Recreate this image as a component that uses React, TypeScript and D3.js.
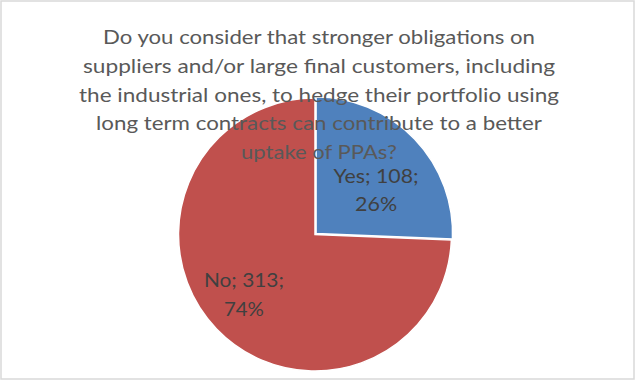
import React from "react";
import * as d3 from "d3";

const categories = ["Yes", "No"];
const values = [108, 313];
const percents = ["26%", "74%"];
const titleLines = [
  "Do you consider that stronger obligations on",
  "suppliers and/or large final customers, including",
  "the industrial ones, to hedge their portfolio using",
  "long term contracts can contribute to a better",
  "uptake of PPAs?",
];
const colors = ["#4F81BD", "#C0504D"];

const W = 636;
const H = 381;
const cx = 315;
const cy = 234.5;
const R = 136.5;
const explode = [1.5, 0];
const titleWidths = [432, 472, 480, 446, 156];
const labelNudge = [
  [2, 12],
  [-12, 3],
];
const labelWidths = [
  [85, 42],
  [80, 40],
];

export default function App() {
  const data = categories.map((c, i) => ({ c, v: values[i], p: percents[i], i }));
  const pie = d3
    .pie<any>()
    .sort(null)
    .value((d: any) => d.v)
    .startAngle(0)
    .endAngle(2 * Math.PI);
  const arcs = pie(data);
  const arc = d3.arc<any>().innerRadius(0).outerRadius(R);
  const labelArc = d3.arc<any>().innerRadius(R * 0.6).outerRadius(R * 0.6);
  const font = "Lato, 'Open Sans', sans-serif";

  return (
    <svg
      width={W}
      height={H}
      style={{ position: "absolute", left: 0, top: 0, background: "#fff" }}
    >
      <rect x={0} y={0} width={W} height={H} fill="#fff" />
      <rect x={1} y={1} width={633} height={378} fill="none" stroke="#D9D9D9" strokeWidth={1.5} />
      <g transform={`translate(${cx},${cy})`}>
        {arcs.map((a: any, i: number) => {
          const mid = (a.startAngle + a.endAngle) / 2;
          const dx = Math.sin(mid) * explode[i];
          const dy = -Math.cos(mid) * explode[i];
          return (
            <path
              key={i}
              d={arc(a) || ""}
              transform={`translate(${dx},${dy})`}
              fill={colors[i]}
              stroke="#fff"
              strokeWidth={1.5}
              strokeLinejoin="miter"
            />
          );
        })}
      </g>
      <g fill="#595959" fontFamily={font} fontSize={20} textAnchor="middle">
        {titleLines.map((t, i) => (
          <text
            key={i}
            x={319}
            y={44 + 28.8 * i}
            textLength={titleWidths[i]}
            lengthAdjust="spacingAndGlyphs"
          >
            {t}
          </text>
        ))}
      </g>
      <g transform={`translate(${cx},${cy})`} fill="#404040" fontFamily={font} fontSize={20} textAnchor="middle">
        {arcs.map((a: any, i: number) => {
          const [lx, ly] = labelArc.centroid(a);
          const x = lx + labelNudge[i][0];
          const y = ly + labelNudge[i][1];
          return (
            <g key={i}>
              <text x={x} y={y - 7} textLength={labelWidths[i][0]} lengthAdjust="spacingAndGlyphs">
                {`${a.data.c}; ${a.data.v};`}
              </text>
              <text x={x} y={y + 21.5} textLength={labelWidths[i][1]} lengthAdjust="spacingAndGlyphs">
                {a.data.p}
              </text>
            </g>
          );
        })}
      </g>
    </svg>
  );
}
